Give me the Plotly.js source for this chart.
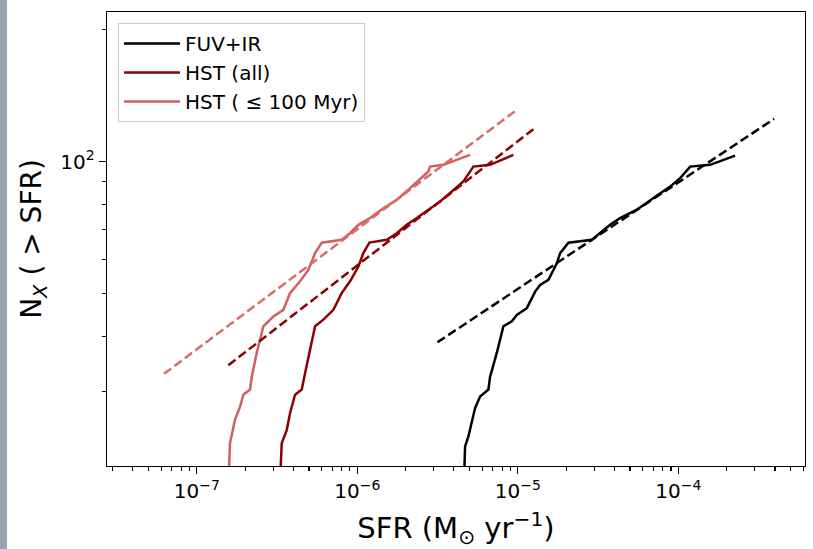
<!DOCTYPE html>
<html>
<head>
<meta charset="utf-8">
<script src="https://cdn.plot.ly/plotly-3.0.1.min.js"></script>
<style>
  html, body { margin: 0; padding: 0; background: #ffffff; }
  #wrap { position: relative; width: 813px; height: 549px; overflow: hidden; }
  #plot { position: absolute; left: 0; top: 0; width: 813px; height: 549px; }
  #edge { position: absolute; left: 0; top: 0; width: 7px; height: 549px; background: #9ba3ad; z-index: 10; }
</style>
</head>
<body>
<div id="wrap"><div id="plot"></div><div id="edge"></div></div>
<script>
// ---- Data (SFR in Msun/yr, N = cumulative count) ----
const fuvSFR = [4.648e-6, 4.695e-6, 4.922e-6, 5.168e-6, 5.420e-6, 5.823e-6, 6.559e-6, 6.721e-6, 7.396e-6, 8.135e-6,
                9.177e-6, 9.858e-6, 1.138e-5, 1.282e-5, 1.377e-5, 1.551e-5, 1.750e-5, 1.835e-5, 2.067e-5, 2.891e-5,
                3.257e-5, 3.758e-5, 4.338e-5, 5.512e-5, 6.996e-5, 8.89e-5, 1.026e-4, 1.185e-4, 1.578e-4, 2.259e-4];
const fuvN   = [20.0, 22.5, 23.7, 25.4, 27.5, 29.2, 30.3, 32.4, 36.7, 42.2,
                43.3, 44.8, 46.4, 50.6, 52.4, 53.8, 58.7, 61.9, 65.4, 66.4,
                68.7, 71.8, 74.4, 77.7, 82.6, 87.7, 91.7, 97.4, 98.3, 103.2];

const hstAllSFR = [3.33e-7, 3.385e-7, 3.636e-7, 3.814e-7, 4.096e-7, 4.509e-7, 4.728e-7, 5.080e-7, 5.459e-7, 6.148e-7,
                   7.1e-7, 8.0e-7, 9.02e-7, 1.016e-6, 1.091e-6, 1.19e-6, 1.527e-6, 1.762e-6, 2.034e-6, 2.348e-6,
                   2.773e-6, 3.28e-6, 3.786e-6, 4.582e-6, 5.290e-6, 6.72e-6, 9.389e-6];
const hstAllN   = [20.0, 22.9, 24.5, 26.8, 29.5, 30.3, 33.0, 37.3, 42.2, 43.7,
                   46.0, 50.2, 53.4, 57.7, 61.9, 65.4, 66.4, 68.7, 71.8, 74.4,
                   77.7, 81.1, 84.8, 90.1, 97.4, 98.3, 103.6];

const hstYoungSFR = [1.59e-7, 1.612e-7, 1.732e-7, 1.862e-7, 1.952e-7, 2.148e-7, 2.202e-7, 2.364e-7, 2.600e-7, 3.0e-7,
                     3.464e-7, 3.814e-7, 4.401e-7, 4.957e-7, 5.459e-7, 6.009e-7, 8.0e-7, 9.02e-7, 1.016e-6, 1.202e-6,
                     1.454e-6, 1.762e-6, 2.133e-6, 2.773e-6, 2.842e-6, 3.439e-6, 5.045e-6];
const hstYoungN   = [20.0, 22.9, 25.9, 27.7, 29.5, 30.3, 32.4, 36.7, 42.2, 44.4,
                     46.0, 50.2, 53.4, 56.7, 61.9, 65.4, 66.4, 68.7, 71.8, 74.4,
                     78.3, 81.8, 87.0, 94.9, 97.4, 98.3, 103.6];

// power-law fit lines (end points)
const fuvFitSFR = [3.155e-6, 3.952e-4];
const fuvFitN   = [38.8, 125.1];
const hstAllFitSFR = [1.573e-7, 1.251e-5];
const hstAllFitN   = [34.4, 118.5];
const hstYoungFitSFR = [6.254e-8, 9.858e-6];
const hstYoungFitN   = [32.9, 131.1];

// axis ticks
const xMajorVals = [1e-7, 1e-6, 1e-5, 1e-4];
const xMajorText = ['10<sup>−7</sup>', '10<sup>−6</sup>', '10<sup>−5</sup>', '10<sup>−4</sup>'];
const xMinorVals = [3e-8,4e-8,5e-8,6e-8,7e-8,8e-8,9e-8,
                    2e-7,3e-7,4e-7,5e-7,6e-7,7e-7,8e-7,9e-7,
                    2e-6,3e-6,4e-6,5e-6,6e-6,7e-6,8e-6,9e-6,
                    2e-5,3e-5,4e-5,5e-5,6e-5,7e-5,8e-5,9e-5,
                    2e-4,3e-4,4e-4,5e-4,6e-4];
const yMajorVals = [100];
const yMajorText = ['10<sup>2</sup>'];
const yMinorVals = [30, 40, 50, 60, 70, 80, 90, 200];

const names = ['FUV+IR', 'HST (all)', 'HST ( ≤ 100 Myr)'];
const colors = ['#000000', '#8b0000', '#d0605f'];
const fitColors = ['#000000', '#8b0000', '#d96c6a'];

const solidX = [fuvSFR, hstAllSFR, hstYoungSFR];
const solidY = [fuvN, hstAllN, hstYoungN];
const fitX = [fuvFitSFR, hstAllFitSFR, hstYoungFitSFR];
const fitY = [fuvFitN, hstAllFitN, hstYoungFitN];

const traces = [];
for (let i = 0; i < 3; i++) {
  traces.push({
    x: solidX[i], y: solidY[i], mode: 'lines', name: names[i],
    line: {color: colors[i], width: 2.5}, hoverinfo: 'skip'
  });
}
for (let i = 0; i < 3; i++) {
  traces.push({
    x: fitX[i], y: fitY[i], mode: 'lines', showlegend: false,
    line: {color: fitColors[i], width: 2.5, dash: '9px,4px'}, hoverinfo: 'skip'
  });
}

const FONT = 'DejaVu Sans, sans-serif';
const layout = {
  width: 813, height: 549, autosize: false,
  margin: {l: 107, r: 8, t: 12, b: 83, pad: 0},
  paper_bgcolor: '#ffffff', plot_bgcolor: '#ffffff',
  font: {family: FONT, color: '#000000', size: 20},
  showlegend: true,
  xaxis: {
    type: 'log', range: [-7.559, -3.211],
    showgrid: false, zeroline: false,
    showline: true, linecolor: '#000000', linewidth: 1.3, mirror: true,
    ticks: 'outside', ticklen: 7, tickwidth: 1.3, tickcolor: '#000000',
    tickmode: 'array', tickvals: xMajorVals, ticktext: xMajorText,
    tickfont: {family: FONT, size: 20, color: '#000000'},
    minor: {ticks: 'outside', ticklen: 4, tickwidth: 1.1, tickcolor: '#000000',
            tickmode: 'array', tickvals: xMinorVals, showgrid: false},
    title: {text: 'SFR (M<sub>⊙</sub> yr<sup>−1</sup>)', font: {family: FONT, size: 29, color: '#000000'}, standoff: 15},
    automargin: false
  },
  yaxis: {
    type: 'log', range: [1.3075, 2.3402],
    showgrid: false, zeroline: false,
    showline: true, linecolor: '#000000', linewidth: 1.3, mirror: true,
    ticks: 'outside', ticklen: 7, tickwidth: 1.3, tickcolor: '#000000',
    tickmode: 'array', tickvals: yMajorVals, ticktext: yMajorText,
    tickfont: {family: FONT, size: 20, color: '#000000'},
    minor: {ticks: 'outside', ticklen: 4, tickwidth: 1.1, tickcolor: '#000000',
            tickmode: 'array', tickvals: yMinorVals, showgrid: false},
    title: {text: 'N<sub><i>X</i></sub> ( > SFR)', font: {family: FONT, size: 28, color: '#000000'}, standoff: 10},
    automargin: false
  },
  legend: {
    x: 0.0158, y: 0.976, xanchor: 'left', yanchor: 'top',
    bgcolor: 'rgba(255,255,255,0.85)', bordercolor: '#cccccc', borderwidth: 1,
    font: {family: FONT, size: 20, color: '#000000'},
    traceorder: 'normal', itemwidth: 56
  }
};

Plotly.newPlot('plot', traces, layout, {displayModeBar: false, staticPlot: true});
</script>
</body>
</html>
